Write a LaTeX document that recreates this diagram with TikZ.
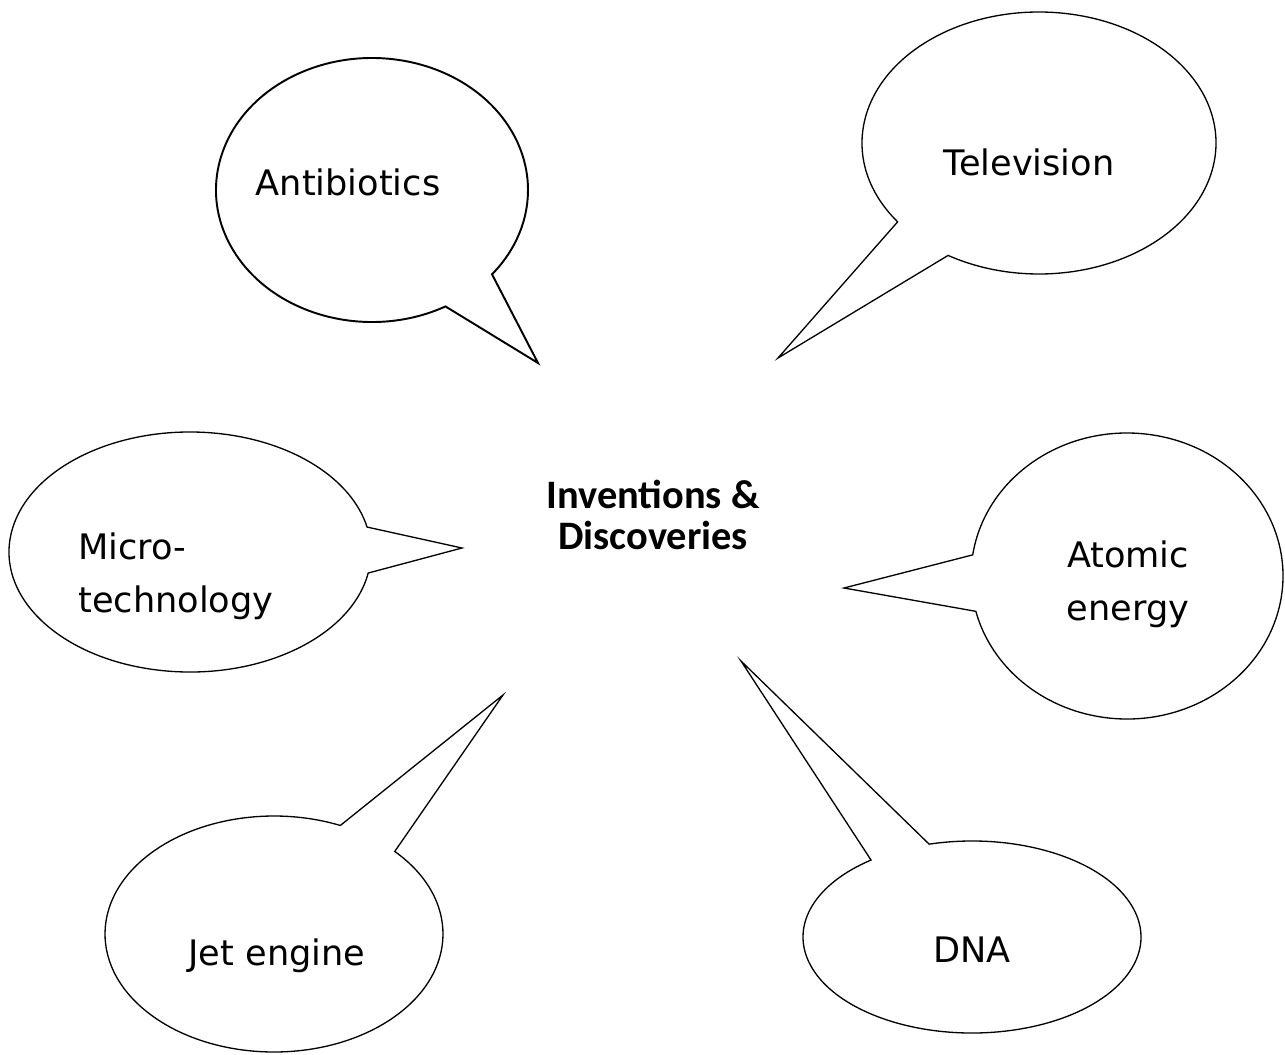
\documentclass[tikz,border=0pt]{standalone}
\usepackage{fontspec}
\usepackage{tikz}
\usetikzlibrary{calc}
\newfontfamily\bubblefont{DejaVu Sans}
\newfontfamily\titlefont{Carlito}

% speech bubble: centre, x radius, y radius, arc from, arc to, tail tip
\newcommand{\speech}[7][]{%
	\draw[bubble, #1] (#2) ++(#5:#3 and #4)
		arc[start angle=#5, end angle=#6, x radius=#3, y radius=#4] -- (#7) -- cycle;}

\begin{document}
\begin{tikzpicture}[x=0.02cm, y=-0.02cm]
	\tikzstyle{bubble} = [draw, line width=0.75pt, fill=white]
	\tikzstyle{word} = [inner sep=0pt, font=\bubblefont\fontsize{20}{30}\selectfont]
	\tikzstyle{title} = [inner sep=0pt, align=center, font=\titlefont\bfseries\fontsize{23}{23}\selectfont]

	\useasboundingbox (0,0) rectangle (1285,1055);

	% centres of the bubbles
	\coordinate (antibiotics) at (372,190);
	\coordinate (television) at (1039,143);
	\coordinate (micro) at (190,552);
	\coordinate (atomic) at (1127,576);
	\coordinate (jet) at (274,934);
	\coordinate (dna) at (972,937);

	% tail tips
	\coordinate (antibiotics tip) at (538,363);
	\coordinate (television tip) at (778,358);
	\coordinate (micro tip) at (462,548);
	\coordinate (atomic tip) at (844,588);
	\coordinate (jet tip) at (503,695);
	\coordinate (dna tip) at (741,661);

	\speech[line width=1.1pt]{antibiotics}{156}{132}{61.9}{399.7}{antibiotics tip}
	\speech{television}{177}{131}{143.0}{480.9}{television tip}
	\speech{micro}{181}{120}{10.1}{348.0}{micro tip}
	\speech{atomic}{156}{143}{188.5}{525.7}{atomic tip}
	\speech{jet}{169}{118}{-44.4}{293.1}{jet tip}
	\speech{dna}{169}{96}{-104.7}{233.3}{dna tip}

	\node[word, anchor=base] (antibiotics text) at (348,195) {Antibiotics};
	\node[word, anchor=base] (television text) at (1029,175) {Television};
	\node[word, anchor=west, align=left] (micro text) at (78,576) {Micro-\\technology};
	\node[word, align=center] (atomic text) at (1128,584) {Atomic\\energy};
	\node[word, anchor=base] (jet text) at (277,965) {Jet engine};
	\node[word, anchor=base] (dna text) at (972,962) {DNA};

	\node[title] (center) at (653,515) {Inventions \&\\Discoveries};
\end{tikzpicture}
\end{document}
